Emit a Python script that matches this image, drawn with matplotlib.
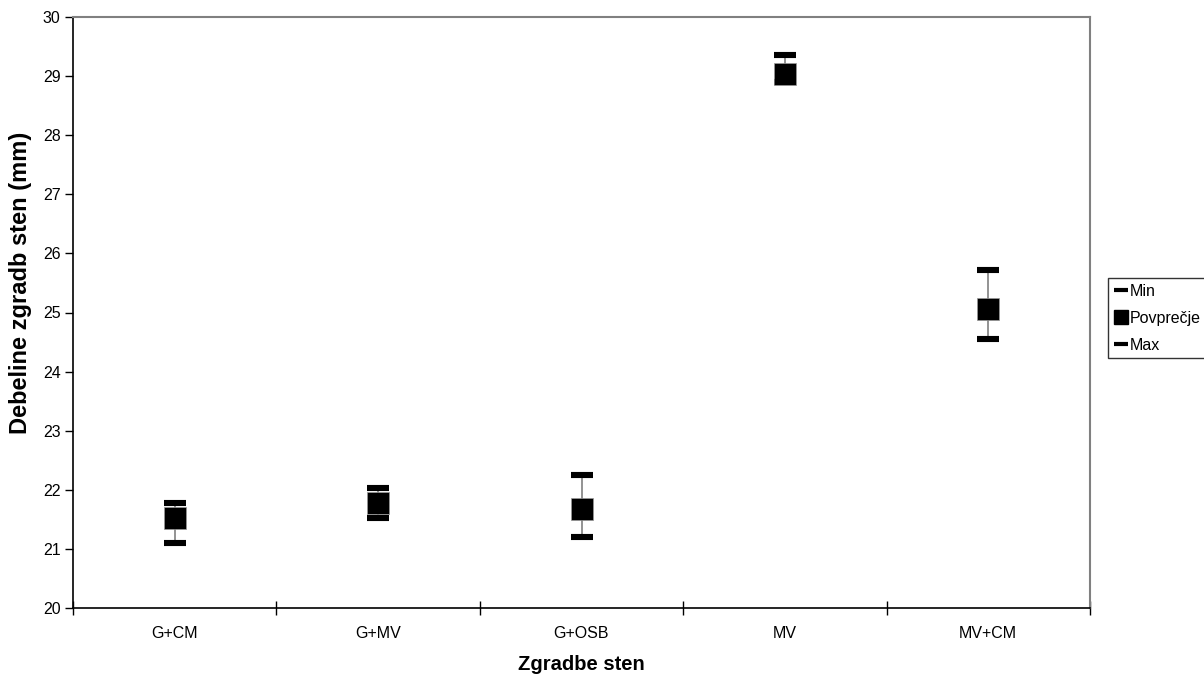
import matplotlib
matplotlib.use("Agg")
import matplotlib.pyplot as plt
from matplotlib.lines import Line2D

plt.rcParams['font.family'] = ['Liberation Sans', 'DejaVu Sans']

categories = ["G+CM", "G+MV", "G+OSB", "MV", "MV+CM"]
min_vals = [21.10, 21.53, 21.20, 28.90, 24.55]
mean_vals = [21.52, 21.78, 21.68, 29.03, 25.06]
max_vals = [21.78, 22.03, 22.25, 29.35, 25.72]

fig = plt.figure(figsize=(12.04, 6.75), dpi=100)
ax = fig.add_axes([73/1204, 1-608/675, (1090-73)/1204, (608-17)/675])

x = list(range(len(categories)))
ax.vlines(x, min_vals, max_vals, color='#808080', lw=1.2, zorder=1)
ax.plot(x, min_vals, linestyle='none', marker='_', markersize=16.5, mew=4.4, color='black', zorder=2)
ax.plot(x, max_vals, linestyle='none', marker='_', markersize=16.5, mew=4.4, color='black', zorder=2)
ax.plot(x, mean_vals, linestyle='none', marker='s', markersize=15.5, color='black', mec='#999999', mew=0.5, zorder=3)

ax.set_xlim(-0.5, len(categories) - 0.5)
ax.set_ylim(20, 30)
ax.set_yticks(range(20, 31))
ax.set_xticks(x)
ax.set_xticklabels(categories, fontsize=11.5)
ax.set_xticks([i + 0.5 for i in range(-1, len(categories))], minor=True)
ax.tick_params(axis='x', which='major', length=0, pad=13)
ax.tick_params(axis='x', which='minor', length=10, direction='inout', width=1)
ax.tick_params(axis='y', labelsize=11.5, length=6, direction='out', width=1, pad=3)

for s in ['top', 'right']:
    ax.spines[s].set_color('#808080')
    ax.spines[s].set_linewidth(1.5)
for s in ['left', 'bottom']:
    ax.spines[s].set_color('black')
    ax.spines[s].set_linewidth(1.2)

ax.set_xlabel("Zgradbe sten", fontsize=14.5, fontweight='bold')
ax.xaxis.set_label_coords(0.5, -(664-608)/591, transform=ax.transAxes)
ax.xaxis.label.set_va('center')
ax.set_ylabel("Debeline zgradb sten (mm)", fontsize=17, fontweight='bold')
ax.yaxis.set_label_coords(-(73-21)/1017, 0.55, transform=ax.transAxes)
ax.yaxis.label.set_va('center')

handles = [
    Line2D([], [], linestyle='none', marker='_', markersize=10, mew=3, color='black'),
    Line2D([], [], linestyle='none', marker='s', markersize=10, color='black'),
    Line2D([], [], linestyle='none', marker='_', markersize=10, mew=3, color='black'),
]
leg = fig.legend(handles, ["Min", "Povprečje", "Max"], loc='upper left',
                 bbox_to_anchor=(1108/1204, 1-278/675), fontsize=11.5,
                 frameon=True, fancybox=False, edgecolor='black',
                 handlelength=0.9, handletextpad=0.1, borderpad=0.35,
                 labelspacing=0.75, borderaxespad=0)
leg.get_frame().set_linewidth(1.0)

fig.savefig("out.png", dpi=100)
